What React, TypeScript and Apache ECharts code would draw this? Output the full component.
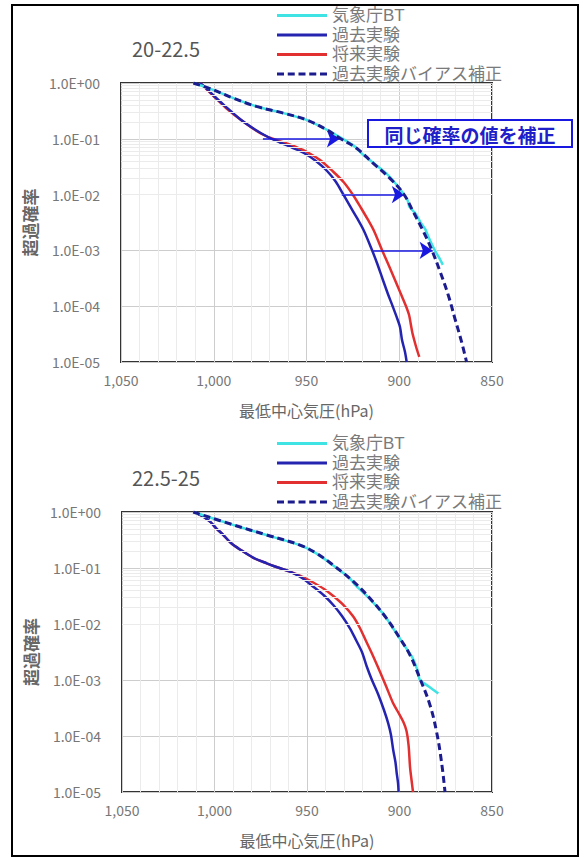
import React, { useEffect, useRef } from 'react';
import * as echarts from 'echarts';

// ---------- labels ----------
const seriesNames = ['気象庁BT', '過去実験', '将来実験', '過去実験バイアス補正'];
const panelTitles = ['20-22.5', '22.5-25'];
const xAxisName = '最低中心気圧(hPa)';
const yAxisName = '超過確率';
const noteText = '同じ確率の値を補正';

// ---------- top panel (20-22.5): pressure hPa / log10(exceedance prob) ----------
const topBT_p = [1011, 1002, 989.5, 977, 962.5, 950, 940, 933, 928, 923.5, 920, 914, 907, 902, 898, 895.5, 894.5, 891, 888.5, 886, 884, 882, 880, 878, 876.5];
const topBT_e = [0, -0.1, -0.27, -0.42, -0.54, -0.66, -0.82, -0.95, -1.05, -1.15, -1.27, -1.43, -1.62, -1.8, -1.97, -2.1, -2.22, -2.35, -2.5, -2.62, -2.78, -2.92, -3.05, -3.16, -3.26];

const topPast_p = [1007.4, 1004.2, 1000.4, 994, 985.9, 977.8, 970.8, 964.3, 957.8, 951.4, 944.9, 938.9, 934.1, 930.3, 926.6, 922.8, 919, 914.7, 912, 908.8, 906.1, 903.4, 901.2, 899.6, 898.5, 896.9, 896];
const topPast_e = [0, -0.09, -0.215, -0.41, -0.645, -0.833, -0.968, -1.066, -1.156, -1.254, -1.398, -1.577, -1.774, -1.989, -2.204, -2.419, -2.652, -2.993, -3.226, -3.53, -3.781, -4.014, -4.211, -4.373, -4.606, -4.821, -5.0];

const topFuture_p = [1007.4, 1004.2, 1000.4, 993.4, 984.2, 975.1, 968.6, 962.1, 955.7, 949.2, 942.7, 935.7, 929.8, 924.9, 920.6, 916.8, 913.6, 909.3, 905.5, 902.3, 899.1, 896.4, 894.7, 893.7, 892.9, 891.5, 890.4, 889.2];
const topFuture_e = [0, -0.099, -0.224, -0.448, -0.69, -0.896, -0.995, -1.066, -1.147, -1.246, -1.38, -1.586, -1.783, -2.007, -2.24, -2.455, -2.652, -2.993, -3.28, -3.53, -3.781, -3.996, -4.158, -4.337, -4.48, -4.659, -4.785, -4.91];

const topCorr_p = [1011, 1002, 989.5, 977, 962.5, 950, 939, 932, 923, 914, 905, 897.8, 892.4, 887, 882.5, 878, 873.6, 870, 866.4, 863.7];
const topCorr_e = [0, -0.1, -0.27, -0.42, -0.54, -0.66, -0.84, -0.99, -1.17, -1.44, -1.71, -1.98, -2.31, -2.66, -2.99, -3.38, -3.8, -4.22, -4.64, -5.0];

// arrows (top panel): from past experiment to corrected value at same probability
const arrowFrom = [973.5, 931, 914];
const arrowTo = [932, 897, 882];
const arrowProb = [0.1, 0.01, 0.001];

// ---------- bottom panel (22.5-25) ----------
const botBT_p = [1011.5, 990, 972, 954, 945, 936, 927, 924, 917, 908, 905, 900, 896, 893, 890, 889, 884, 879];
const botBT_e = [0, -0.23, -0.41, -0.59, -0.74, -0.95, -1.18, -1.3, -1.52, -1.85, -2.0, -2.25, -2.45, -2.6, -2.85, -3.0, -3.12, -3.24];

const botPast_p = [1009.6, 1006.2, 1002.4, 999.2, 995.2, 991.1, 986.2, 979.2, 971.8, 965.7, 959.2, 952.7, 946.6, 940.8, 935.8, 931.1, 926.8, 923.5, 920.3, 917.6, 914.9, 911.6, 908.4, 906.1, 904.6, 903.4, 902.2, 901.5, 900.8, 900.5];
const botPast_e = [-0.023, -0.08, -0.173, -0.286, -0.411, -0.554, -0.67, -0.813, -0.916, -0.991, -1.066, -1.179, -1.334, -1.491, -1.661, -1.857, -2.077, -2.286, -2.5, -2.768, -3.0, -3.25, -3.536, -3.773, -3.982, -4.25, -4.464, -4.666, -4.839, -5.0];

const botFuture_p = [1009.6, 1006.2, 1002.4, 999.2, 995.2, 991.1, 986.2, 979.2, 971.8, 965.7, 959.2, 952.7, 946.6, 940.8, 935.8, 930, 925, 921.4, 918.1, 914.3, 910.5, 907.3, 903.5, 900.8, 897.9, 896.2, 895.1, 894.3, 893.5, 892.7];
const botFuture_e = [-0.023, -0.08, -0.173, -0.286, -0.411, -0.554, -0.67, -0.813, -0.916, -0.991, -1.066, -1.152, -1.259, -1.375, -1.5, -1.67, -1.866, -2.071, -2.304, -2.571, -2.857, -3.107, -3.411, -3.571, -3.75, -3.911, -4.161, -4.554, -4.786, -5.0];

const botCorr_p = [1011.5, 989.8, 971.8, 953.8, 944.8, 935.8, 925, 916, 907, 899.7, 894.4, 889, 883.5, 880, 877.3, 875.4];
const botCorr_e = [0, -0.23, -0.41, -0.59, -0.74, -0.95, -1.24, -1.54, -1.9, -2.26, -2.55, -2.97, -3.45, -3.92, -4.46, -5.0];

// ---------- axis ----------
const xMin = 850;
const xMax = 1050;
const xInterval = 50;
const yMin = 0.00001;
const yMax = 1;
const minorMantissas = [2, 3, 4, 5, 6, 7, 8, 9];
const decades = [-5, -4, -3, -2, -1];

const COLORS = {
  bt: '#3fe3e3',
  past: '#2424b0',
  future: '#e23030',
  corr: '#1c1c8e',
  arrow: '#1818e0',
};

const FONT = '"Noto Sans CJK JP", "Noto Sans", sans-serif';
const LEGEND_FONT = '"Liberation Sans", "Noto Sans CJK JP", sans-serif';

const SOLID_ICON = 'path://M0,0H50V3H0Z';
const DASH_ICON =
  'path://M0,0H7V3H0Z M10.75,0H17.75V3H10.75Z M21.5,0H28.5V3H21.5Z M32.25,0H39.25V3H32.25Z M43,0H50V3H43Z';

function pair(p: number[], e: number[]) {
  return p.map((x, i) => [x, Math.pow(10, e[i])]);
}

function yLabel(v: number) {
  const e = Math.round(Math.log10(v));
  const s = e >= 0 ? '+' : '-';
  return `1.0E${s}${String(Math.abs(e)).padStart(2, '0')}`;
}

const minorValues: number[] = [];
decades.forEach((d) => minorMantissas.forEach((m) => minorValues.push(m * Math.pow(10, d))));

export default function App() {
  const ref = useRef<HTMLDivElement>(null);

  useEffect(() => {
    if (!ref.current) return;
    const chart = echarts.init(ref.current, null, { renderer: 'svg' });

    const panels = [
      {
        grid: { left: 121, top: 83, width: 371, height: 279 },
        title: { left: 127, top: 33 },
        legendTop: 2,
        data: [pair(topBT_p, topBT_e), pair(topPast_p, topPast_e), pair(topFuture_p, topFuture_e), pair(topCorr_p, topCorr_e)],
      },
      {
        grid: { left: 122, top: 512, width: 370, height: 280 },
        title: { left: 127, top: 462 },
        legendTop: 430,
        data: [pair(botBT_p, botBT_e), pair(botPast_p, botPast_e), pair(botFuture_p, botFuture_e), pair(botCorr_p, botCorr_e)],
      },
    ];

    const grids: any[] = [];
    const xAxes: any[] = [];
    const yAxes: any[] = [];
    const titles: any[] = [];
    const legends: any[] = [];
    const series: any[] = [];

    panels.forEach((pn, i) => {
      grids.push({ ...pn.grid, show: true, borderColor: '#333', borderWidth: 2, backgroundColor: '#fff' });
      titles.push({
        text: panelTitles[i],
        left: pn.title.left,
        top: pn.title.top,
        textStyle: { fontFamily: FONT, fontSize: 20, fontWeight: 'normal', color: '#555' },
      });
      legends.push({
        left: 272,
        top: pn.legendTop,
        orient: 'vertical',
        itemWidth: 50,
        itemHeight: 3,
        itemGap: 2.5,
        symbolKeepAspect: false,
        selectedMode: false,
        data: seriesNames.map((n, k) => ({ name: n, icon: k === 3 ? DASH_ICON : SOLID_ICON })),
        textStyle: { fontFamily: LEGEND_FONT, fontSize: 17, lineHeight: 17, color: '#7a7a7a' },
      });
      xAxes.push({
        type: 'value',
        gridIndex: i,
        min: xMin,
        max: xMax,
        interval: xInterval,
        inverse: true,
        name: xAxisName,
        nameLocation: 'middle',
        nameGap: 40,
        nameTextStyle: { fontFamily: FONT, fontSize: 16, color: '#666' },
        axisLine: { show: false },
        axisTick: { show: false },
        axisLabel: {
          fontFamily: FONT,
          fontSize: 14,
          color: '#777',
          margin: 11,
          formatter: (v: number) => v.toLocaleString('en-US'),
        },
        splitLine: { show: true, lineStyle: { color: '#cdcdcd', width: 1 } },
        minorTick: { show: false, splitNumber: 5 },
        minorSplitLine: { show: true, lineStyle: { color: '#ebebeb', width: 1 } },
      });
      yAxes.push({
        type: 'log',
        gridIndex: i,
        logBase: 10,
        min: yMin,
        max: yMax,
        splitNumber: 5,
        name: yAxisName,
        nameLocation: 'middle',
        nameRotate: 90,
        nameGap: 80,
        nameTextStyle: { fontFamily: FONT, fontSize: 17, color: '#666', fontWeight: 'bold' },
        axisLine: { show: false },
        axisTick: { show: false },
        axisLabel: { fontFamily: FONT, fontSize: 14, color: '#777', margin: 21, formatter: yLabel },
        splitLine: { show: true, lineStyle: { color: '#cdcdcd', width: 1 } },
      });

      // log minor grid lines
      series.push({
        type: 'line',
        xAxisIndex: i,
        yAxisIndex: i,
        data: [],
        z: 1,
        silent: true,
        markLine: {
          silent: true,
          symbol: ['none', 'none'],
          label: { show: false },
          emphasis: { disabled: true },
          lineStyle: { color: '#ebebeb', width: 1, type: 'solid' },
          data: minorValues.map((v) => ({ yAxis: v })),
        },
      });

      const [bt, past, future, corr] = pn.data;
      series.push({
        name: seriesNames[2], type: 'line', xAxisIndex: i, yAxisIndex: i, data: future,
        symbol: 'none', smooth: 0.3, z: 3,
        lineStyle: { color: COLORS.future, width: 2.5 }, itemStyle: { color: COLORS.future },
      });
      series.push({
        name: seriesNames[1], type: 'line', xAxisIndex: i, yAxisIndex: i, data: past,
        symbol: 'none', smooth: 0.3, z: 4,
        lineStyle: { color: COLORS.past, width: 2.5 }, itemStyle: { color: COLORS.past },
      });
      series.push({
        name: seriesNames[0], type: 'line', xAxisIndex: i, yAxisIndex: i, data: bt,
        symbol: 'none', smooth: 0.2, z: 5,
        lineStyle: { color: COLORS.bt, width: 2.5 }, itemStyle: { color: COLORS.bt },
      });
      series.push({
        name: seriesNames[3], type: 'line', xAxisIndex: i, yAxisIndex: i, data: corr,
        symbol: 'none', smooth: 0.4, z: 6,
        lineStyle: { color: COLORS.corr, width: 3, type: [7, 4] }, itemStyle: { color: COLORS.corr },
      });
    });

    // arrows on top panel
    series.push({
      type: 'line',
      xAxisIndex: 0,
      yAxisIndex: 0,
      data: [],
      z: 7,
      silent: true,
      markLine: {
        silent: true,
        symbol: ['none', 'arrow'],
        symbolSize: 13,
        label: { show: false },
        emphasis: { disabled: true },
        lineStyle: { color: COLORS.arrow, width: 1.5, type: 'solid' },
        itemStyle: { color: COLORS.arrow },
        data: arrowFrom.map((f, k) => [{ coord: [f, arrowProb[k]] }, { coord: [arrowTo[k], arrowProb[k]] }]),
      },
    });

    chart.setOption({
      animation: false,
      backgroundColor: '#fff',
      title: titles,
      legend: legends,
      grid: grids,
      xAxis: xAxes,
      yAxis: yAxes,
      series,
      graphic: [
        {
          type: 'rect',
          z: 100,
          silent: true,
          shape: { x: 12, y: 5, width: 566, height: 851 },
          style: { fill: 'none', stroke: '#000', lineWidth: 2 },
        },
        {
          type: 'rect',
          z: 100,
          silent: true,
          shape: { x: 368, y: 120, width: 204, height: 27 },
          style: { fill: '#ffffff', stroke: COLORS.arrow, lineWidth: 2 },
        },
        {
          type: 'text',
          z: 101,
          silent: true,
          x: 470,
          y: 134,
          style: {
            text: noteText,
            fontFamily: FONT,
            fontSize: 19,
            fontWeight: 'bold',
            fill: '#2020c8',
            align: 'center',
            verticalAlign: 'middle',
          },
        },
      ],
    });

    return () => chart.dispose();
  }, []);

  return (
    <div
      ref={ref}
      style={{ position: 'fixed', left: 0, top: 0, width: 587, height: 858, background: '#fff' }}
    />
  );
}
